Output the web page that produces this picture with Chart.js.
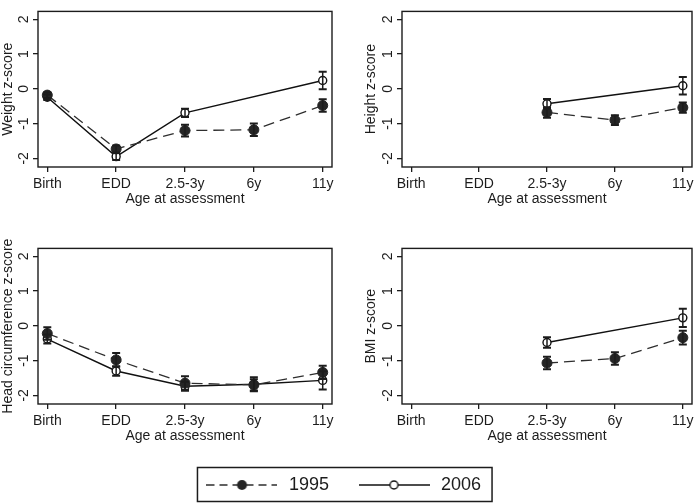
<!DOCTYPE html>
<html><head><meta charset="utf-8">
<script src="https://cdn.jsdelivr.net/npm/chart.js@4"></script>
<style>
html,body{margin:0;padding:0;background:#fff;}
#wrap{position:relative;width:698px;height:503px;overflow:hidden;background:#fff;}
canvas{position:absolute;}
</style></head><body>
<div id="wrap">
<canvas id="c1" width="349" height="208" style="left:0px;top:0px"></canvas>
<canvas id="c2" width="349" height="208" style="left:349px;top:0px"></canvas>
<canvas id="c3" width="349" height="208" style="left:0px;top:237px"></canvas>
<canvas id="c4" width="349" height="208" style="left:349px;top:237px"></canvas>
<canvas id="leg" width="687" height="160" style="left:-1px;top:449px"></canvas>
</div>
<script>
// ---- data ----
const categories = ['Birth', 'EDD', '2.5-3y', '6y', '11y'];
const yTicks = [-2, -1, 0, 1, 2];
const seriesNames = ['1995', '2006'];
const xTitle = 'Age at assessment';

const weight1995 = [-0.18, -1.73, -1.20, -1.18, -0.48];
const weight1995Err = [0.08, 0.10, 0.17, 0.18, 0.18];
const weight2006 = [-0.24, -1.95, -0.69, null, 0.24];
const weight2006Err = [0.08, 0.10, 0.12, null, 0.25];

const height1995 = [null, null, -0.68, -0.90, -0.54];
const height1995Err = [null, null, 0.15, 0.14, 0.15];
const height2006 = [null, null, -0.43, null, 0.09];
const height2006Err = [null, null, 0.14, null, 0.25];

const head1995 = [-0.22, -0.98, -1.65, -1.70, -1.34];
const head1995Err = [0.18, 0.20, 0.20, 0.16, 0.19];
const head2006 = [-0.38, -1.30, -1.74, -1.68, -1.57];
const head2006Err = [0.13, 0.14, 0.13, 0.20, 0.26];

const bmi1995 = [null, null, -1.07, -0.94, -0.34];
const bmi1995Err = [null, null, 0.18, 0.18, 0.20];
const bmi2006 = [null, null, -0.48, null, 0.23];
const bmi2006Err = [null, null, 0.15, null, 0.26];

// ---- styling ----
const FONT = '"Liberation Sans", Arial, Helvetica, sans-serif';
const INK = '#1c1c1c';
Chart.defaults.font.family = FONT;
Chart.defaults.color = INK;

const errorBars = {
  id: 'errorBars',
  afterDatasetsDraw(chart) {
    const ctx = chart.ctx, ys = chart.scales.y;
    chart.data.datasets.forEach((ds, di) => {
      const meta = chart.getDatasetMeta(di);
      (ds.errors || []).forEach((e, i) => {
        const v = ds.data[i].y;
        if (v == null || e == null) return;
        const x = meta.data[i].x;
        const y1 = ys.getPixelForValue(v + e), y2 = ys.getPixelForValue(v - e);
        ctx.save();
        ctx.strokeStyle = INK;
        ctx.lineWidth = 1.5;
        ctx.beginPath();
        ctx.moveTo(x, y1); ctx.lineTo(x, y2);
        ctx.stroke();
        ctx.lineWidth = 2;
        ctx.beginPath();
        ctx.moveTo(x - 4, y1); ctx.lineTo(x + 4, y1);
        ctx.moveTo(x - 4, y2); ctx.lineTo(x + 4, y2);
        ctx.stroke();
        ctx.restore();
      });
    });
  }
};

const plotFrame = {
  id: 'plotFrame',
  beforeDatasetsDraw(chart) {
    const a = chart.chartArea, ctx = chart.ctx;
    ctx.save();
    ctx.strokeStyle = INK;
    ctx.lineWidth = 1.4;
    ctx.strokeRect(a.left, a.top, a.right - a.left, a.bottom - a.top);
    ctx.restore();
  }
};

function toPts(arr) { return arr.map((v, i) => ({x: i, y: v})); }

function makePanel(id, yTitle, s95, e95, s06, e06, geo) {
  new Chart(document.getElementById(id), {
    type: 'line',
    data: {
      datasets: [
        {
          label: seriesNames[0], data: toPts(s95), errors: e95,
          borderColor: '#2e2e2e', borderWidth: 1.3, borderDash: [11, 6],
          pointRadius: 5, pointBackgroundColor: '#252525', pointBorderColor: '#252525',
          pointBorderWidth: 1, spanGaps: true, tension: 0
        },
        {
          label: seriesNames[1], data: toPts(s06), errors: e06,
          borderColor: '#111', borderWidth: 1.4,
          pointRadius: 4, pointBackgroundColor: '#fff', pointBorderColor: '#111',
          pointBorderWidth: 1.4, spanGaps: true, tension: 0
        }
      ]
    },
    options: {
      responsive: false, animation: false, devicePixelRatio: 1,
      layout: {padding: {top: geo.top, left: geo.left, right: geo.right, bottom: 0}},
      plugins: {legend: {display: false}, tooltip: {enabled: false}},
      scales: {
        x: {
          type: 'linear', min: -0.135, max: 4.135,
          afterBuildTicks: s => { s.ticks = categories.map((c, i) => ({value: i})); },
          afterFit: s => { s.height = 41; },
          ticks: {autoSkip: false, maxRotation: 0, minRotation: 0, padding: 4,
                  font: {size: 14}, color: INK,
                  callback: v => categories[v]},
          grid: {display: true, drawOnChartArea: false, drawTicks: true, tickLength: 5,
                 color: INK, lineWidth: 1.3},
          border: {display: false},
          title: {display: true, text: xTitle, font: {size: 14}, color: INK, padding: {top: 0, bottom: 0}}
        },
        y: {
          type: 'linear', min: -2.25, max: 2.23,
          afterBuildTicks: s => { s.ticks = yTicks.map(v => ({value: v})); },
          afterFit: s => { s.width = geo.yw; },
          ticks: {minRotation: 90, maxRotation: 90, crossAlign: 'center', padding: 3,
                  font: {size: 14}, color: INK, callback: v => String(v)},
          grid: {display: true, drawOnChartArea: false, drawTicks: true, tickLength: 5,
                 color: INK, lineWidth: 1.3},
          border: {display: false},
          title: {display: true, text: yTitle, font: {size: 14}, color: INK, padding: {top: 0, bottom: 0}}
        }
      }
    },
    plugins: [plotFrame, errorBars]
  });
}

const geoLeft = {top: 1, left: 0, right: 17, yw: 38};
const geoRight = {top: 1, left: 14, right: 2, yw: 39};
makePanel('c1', 'Weight z-score', weight1995, weight1995Err, weight2006, weight2006Err, geoLeft);
makePanel('c2', 'Height z-score', height1995, height1995Err, height2006, height2006Err, geoRight);
makePanel('c3', 'Head circumference z-score', head1995, head1995Err, head2006, head2006Err, geoLeft);
makePanel('c4', 'BMI z-score', bmi1995, bmi1995Err, bmi2006, bmi2006Err, geoRight);

// ---- legend ----
function sample(dashed) {
  const c = document.createElement('canvas');
  c.width = 71; c.height = 12;
  const g = c.getContext('2d');
  g.strokeStyle = dashed ? '#2e2e2e' : '#111';
  g.lineWidth = 1.4;
  if (dashed) g.setLineDash([8, 5]);
  g.beginPath(); g.moveTo(0, 6); g.lineTo(71, 6); g.stroke();
  g.setLineDash([]);
  g.beginPath(); g.arc(35.5, 6, dashed ? 5 : 4, 0, Math.PI * 2);
  if (dashed) { g.fillStyle = '#252525'; g.fill(); }
  else { g.fillStyle = '#fff'; g.fill(); g.lineWidth = 1.4; g.stroke(); }
  return c;
}
const legendImgs = [sample(true), sample(false)];

const legendFrame = {
  id: 'legendFrame',
  afterDraw(chart) {
    const hb = chart.legend.legendHitBoxes;
    if (!hb || !hb.length) return;
    const l = hb[0].left - 6.5, r = hb[hb.length - 1].left + hb[hb.length - 1].width + 11;
    const ctx = chart.ctx;
    ctx.save();
    ctx.strokeStyle = INK; ctx.lineWidth = 1.5;
    ctx.strokeRect(l, 18.5, r - l, 34);
    ctx.restore();
  }
};

new Chart(document.getElementById('leg'), {
  type: 'line',
  data: {datasets: seriesNames.map(n => ({label: n, data: []}))},
  options: {
    responsive: false, animation: false, devicePixelRatio: 1,
    layout: {padding: 0},
    scales: {x: {display: false}, y: {display: false}},
    plugins: {
      tooltip: {enabled: false},
      legend: {
        display: true, position: 'top', align: 'center', maxHeight: 100,
        labels: {
          usePointStyle: true, pointStyleWidth: 76, padding: 27,
          font: {size: 18}, color: INK,
          generateLabels: chart => seriesNames.map((n, i) => ({
            text: n, pointStyle: legendImgs[i], fillStyle: '#fff', strokeStyle: INK,
            lineWidth: 0, hidden: false, datasetIndex: i, fontColor: INK
          }))
        }
      }
    }
  },
  plugins: [legendFrame]
});
</script>
</body></html>
